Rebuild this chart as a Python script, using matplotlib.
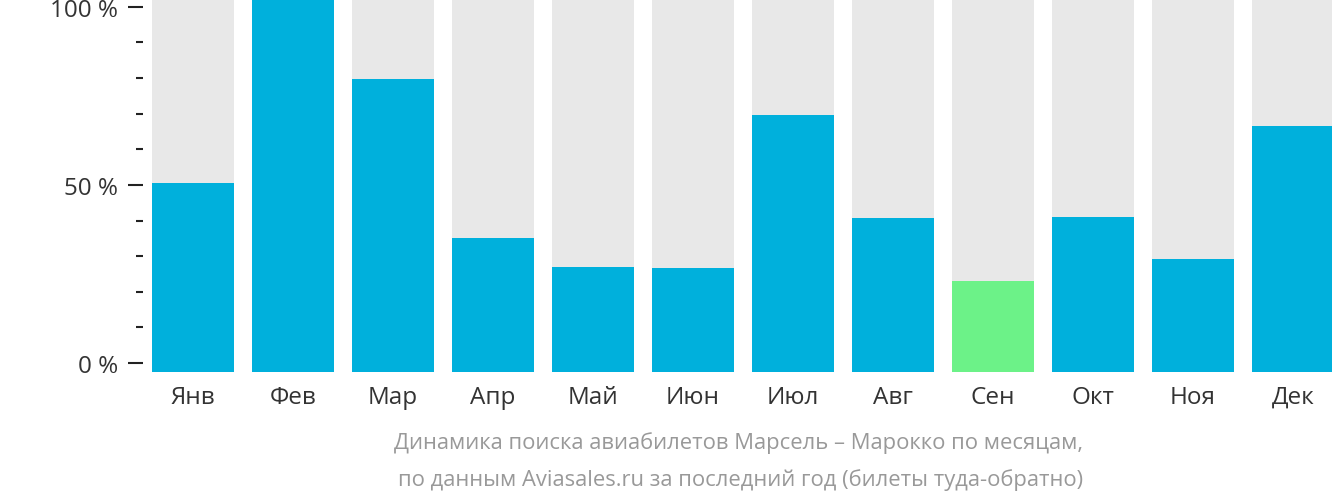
import numpy as np
import matplotlib.pyplot as plt

plt.rcParams['font.family'] = ['Open Sans', 'DejaVu Sans']

months = ["Янв", "Фев", "Мар", "Апр", "Май", "Июн",
          "Июл", "Авг", "Сен", "Окт", "Ноя", "Дек"]
share = [50.7, 100, 78.6, 35.9, 28.2, 27.9, 68.9, 41.3, 24.4, 41.6, 30.3, 66.0]
highlight = "Сен"

tick_pos = np.linspace(2.4, 97.9, 11)
tick_labels = ["0 %", "", "", "", "", "50 %", "", "", "", "", "100 %"]

blue = "#00b0dc"
green = "#6cf288"
grey = "#e8e8e8"

fig = plt.figure(figsize=(13.32, 5.02), dpi=100)
ax = fig.add_axes([143 / 1332, 1 - 373 / 502, 1189 / 1332, 373 / 502])

x = np.arange(len(months))
colors = [green if m == highlight else blue for m in months]
ax.bar(x, [100] * len(months), width=0.82, color=grey)
ax.bar(x, share, width=0.82, color=colors)

ax.set_xlim(-0.5, 11.39)
ax.set_ylim(0, 100)
ax.set_xticks(x)
ax.set_xticklabels(months, fontsize=17.5, color="#333333")
ax.tick_params(axis="x", length=0, pad=9)

ax.set_yticks(tick_pos[::5])
ax.set_yticklabels([tick_labels[i] for i in range(0, 11, 5)], fontsize=17.5, color="#333333")
ax.set_yticks(tick_pos, minor=True)
ax.tick_params(axis="y", which="major", length=10.8, width=1.5, color="#222222", pad=7)
ax.tick_params(axis="y", which="minor", length=5, width=1.5, color="#222222")

for s in ax.spines.values():
    s.set_visible(False)

fig.text(739 / 1332, 1 - 443 / 502,
         "Динамика поиска авиабилетов Марсель – Марокко по месяцам,",
         ha="center", va="center", fontsize=15.8, color="#999999")
fig.text(741 / 1332, 1 - 480 / 502,
         "по данным Aviasales.ru за последний год (билеты туда-обратно)",
         ha="center", va="center", fontsize=15.8, color="#999999")

fig.savefig("out.png", dpi=100)
